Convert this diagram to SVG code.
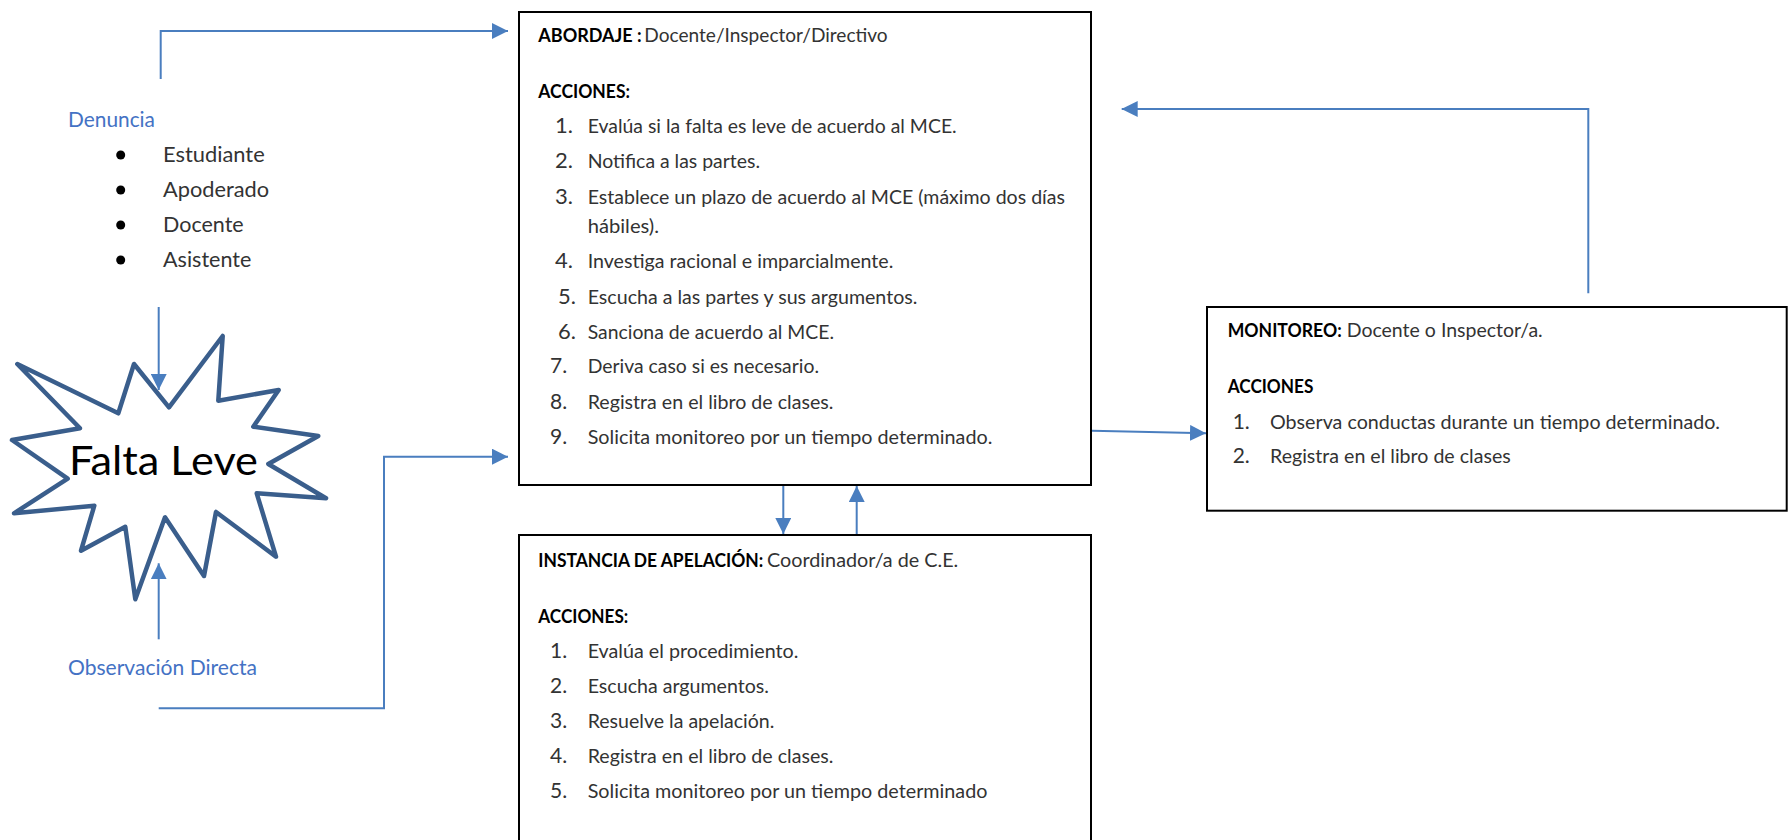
<svg xmlns="http://www.w3.org/2000/svg" width="1790" height="840" viewBox="0 0 1790 840">
<style>
text{font-family:Lato,"Liberation Sans",Arial,sans-serif;fill:#333}
.b{font-weight:bold;fill:#000}
.t{font-size:18.5px}
.n{font-size:22px}
.n2{font-size:21px}
.big{font-size:22px}
.blue{fill:#4472C4}
.box{fill:#fff;stroke:#000;stroke-width:2}
.con{fill:none;stroke:#4A7EBF;stroke-width:2}
.star{fill:#fff;stroke:#3A5E8C;stroke-width:4.5;stroke-linejoin:round}
</style>
<defs>
<marker id="ah" markerUnits="userSpaceOnUse" markerWidth="16" markerHeight="16" viewBox="0 0 15 15" refX="15" refY="7.5" orient="auto">
<path d="M0,0 L15,7.5 L0,15 z" fill="#4A7EBF"/>
</marker>
</defs>
<rect width="1790" height="840" fill="#fff"/>

<g id="node-falta-leve">
<polygon class="star" points="17.3,364 118.3,413.3 134,364 169,407.3 222.7,336 218.3,400.7 278.7,390 253.3,426.7 318.3,436 268.3,464 326,498.3 256.7,493.3 276,556.7 216,512 204,576 165,517.3 135.3,599.3 125.3,526.7 81,550.7 94.3,505.7 14,513.3 67.7,478.7 12,440 80,428.3"/>
<text x="69" y="475" style="font-size:41px;fill:#000" textLength="189" lengthAdjust="spacingAndGlyphs">Falta Leve</text>
</g>

<g id="node-denuncia">
<text class="big blue" x="68" y="127" textLength="87" lengthAdjust="spacingAndGlyphs">Denuncia</text>
<circle cx="120.7" cy="155" r="4.5" fill="#000"/>
<circle cx="120.7" cy="190" r="4.5" fill="#000"/>
<circle cx="120.7" cy="225" r="4.5" fill="#000"/>
<circle cx="120.7" cy="260" r="4.5" fill="#000"/>
<text class="big" x="163" y="162.3" textLength="101.7" lengthAdjust="spacingAndGlyphs">Estudiante</text>
<text class="big" x="163" y="197.3" textLength="106" lengthAdjust="spacingAndGlyphs">Apoderado</text>
<text class="big" x="163" y="232.3" textLength="80.7" lengthAdjust="spacingAndGlyphs">Docente</text>
<text class="big" x="163" y="267.3" textLength="88.3" lengthAdjust="spacingAndGlyphs">Asistente</text>
</g>

<g id="node-observacion">
<text class="big blue" x="68" y="675" textLength="189" lengthAdjust="spacingAndGlyphs">Observación Directa</text>
</g>

<g id="node-abordaje">
<rect class="box" x="519" y="12" width="572" height="473"/>
<text class="t b" x="538.3" y="42" textLength="103.4" lengthAdjust="spacingAndGlyphs">ABORDAJE :</text>
<text class="t" x="644.3" y="42" textLength="243.4" lengthAdjust="spacingAndGlyphs">Docente/Inspector/Directivo</text>
<text class="t b" x="538.3" y="97.5" textLength="91.7" lengthAdjust="spacingAndGlyphs">ACCIONES:</text>
<text class="n" x="555" y="133.3">1.</text>
<text class="t" x="587.7" y="133.3" textLength="369" lengthAdjust="spacingAndGlyphs">Evalúa si la falta es leve de acuerdo al MCE.</text>
<text class="n" x="555" y="168.3">2.</text>
<text class="t" x="587.7" y="168.3" textLength="172.3" lengthAdjust="spacingAndGlyphs">Notifica a las partes.</text>
<text class="n" x="555" y="204">3.</text>
<text class="t" x="587.7" y="204" textLength="477.3" lengthAdjust="spacingAndGlyphs">Establece un plazo de acuerdo al MCE (máximo dos días</text>
<text class="t" x="587.7" y="233.3" textLength="71.3" lengthAdjust="spacingAndGlyphs">hábiles).</text>
<text class="n" x="555" y="268.3">4.</text>
<text class="t" x="587.7" y="268.3" textLength="305.6" lengthAdjust="spacingAndGlyphs">Investiga racional e imparcialmente.</text>
<text class="n" x="558" y="304">5.</text>
<text class="t" x="587.7" y="304" textLength="329.7" lengthAdjust="spacingAndGlyphs">Escucha a las partes y sus argumentos.</text>
<text class="n" x="558" y="339">6.</text>
<text class="t" x="587.7" y="339" textLength="246.3" lengthAdjust="spacingAndGlyphs">Sanciona de acuerdo al MCE.</text>
<text class="n2" x="550" y="373.3">7.</text>
<text class="t" x="587.7" y="373.3" textLength="231.3" lengthAdjust="spacingAndGlyphs">Deriva caso si es necesario.</text>
<text class="n2" x="550" y="409">8.</text>
<text class="t" x="587.7" y="409" textLength="245.7" lengthAdjust="spacingAndGlyphs">Registra en el libro de clases.</text>
<text class="n2" x="550" y="444">9.</text>
<text class="t" x="587.7" y="444" textLength="404.7" lengthAdjust="spacingAndGlyphs">Solicita monitoreo por un tiempo determinado.</text>
</g>

<g id="node-apelacion">
<rect class="box" x="519" y="535" width="572" height="400"/>
<text class="t b" x="538.3" y="566.7" textLength="225" lengthAdjust="spacingAndGlyphs">INSTANCIA DE APELACIÓN:</text>
<text class="t" x="767" y="566.7" textLength="191.3" lengthAdjust="spacingAndGlyphs">Coordinador/a de C.E.</text>
<text class="t b" x="538.3" y="622.7" textLength="90" lengthAdjust="spacingAndGlyphs">ACCIONES:</text>
<text class="n2" x="550" y="658.3">1.</text>
<text class="t" x="587.7" y="658.3" textLength="210.7" lengthAdjust="spacingAndGlyphs">Evalúa el procedimiento.</text>
<text class="n2" x="550" y="692.7">2.</text>
<text class="t" x="587.7" y="692.7" textLength="181.3" lengthAdjust="spacingAndGlyphs">Escucha argumentos.</text>
<text class="n2" x="550" y="727.7">3.</text>
<text class="t" x="587.7" y="727.7" textLength="186.7" lengthAdjust="spacingAndGlyphs">Resuelve la apelación.</text>
<text class="n2" x="550" y="763.3">4.</text>
<text class="t" x="587.7" y="763.3" textLength="245.7" lengthAdjust="spacingAndGlyphs">Registra en el libro de clases.</text>
<text class="n2" x="550" y="797.7">5.</text>
<text class="t" x="587.7" y="797.7" textLength="399.7" lengthAdjust="spacingAndGlyphs">Solicita monitoreo por un tiempo determinado</text>
</g>

<g id="node-monitoreo">
<rect class="box" x="1207" y="307" width="579.7" height="203.7"/>
<text class="t b" x="1227.7" y="337.3" textLength="114" lengthAdjust="spacingAndGlyphs">MONITOREO:</text>
<text class="t" x="1346.7" y="337.3" textLength="196" lengthAdjust="spacingAndGlyphs">Docente o Inspector/a.</text>
<text class="t b" x="1227.7" y="393.3" textLength="85.7" lengthAdjust="spacingAndGlyphs">ACCIONES</text>
<text class="n2" x="1232.7" y="429.3">1.</text>
<text class="t" x="1270" y="429.3" textLength="450" lengthAdjust="spacingAndGlyphs">Observa conductas durante un tiempo determinado.</text>
<text class="n2" x="1232.7" y="463.3">2.</text>
<text class="t" x="1270" y="463.3" textLength="240.7" lengthAdjust="spacingAndGlyphs">Registra en el libro de clases</text>
</g>

<g id="connectors">
<path class="con" d="M160.7,79 V31 H508" marker-end="url(#ah)"/>
<path class="con" d="M158.7,307 V390" marker-end="url(#ah)"/>
<path class="con" d="M158.7,639.3 V563.3" marker-end="url(#ah)"/>
<path class="con" d="M158.7,708.3 H384 V456.7 H508" marker-end="url(#ah)"/>
<path class="con" d="M783.3,486 V534" marker-end="url(#ah)"/>
<path class="con" d="M856.7,534 V486" marker-end="url(#ah)"/>
<path class="con" d="M1092,430.7 L1206,433.3" marker-end="url(#ah)"/>
<path class="con" d="M1588.3,293.3 V109 H1121.7" marker-end="url(#ah)"/>
</g>
</svg>
